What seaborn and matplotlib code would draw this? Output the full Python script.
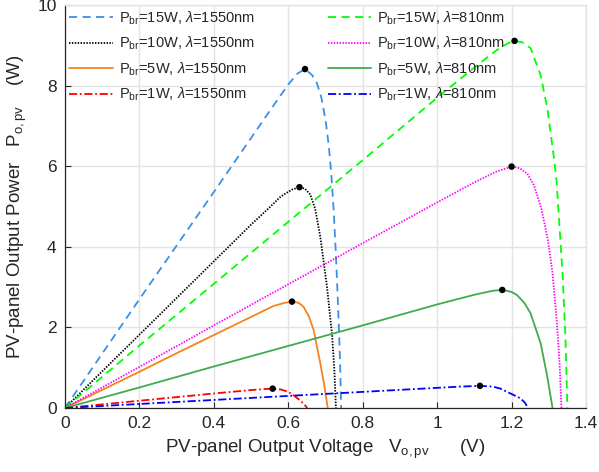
import matplotlib
matplotlib.use("Agg")
import matplotlib.pyplot as plt
import numpy as np
import pandas as pd
import seaborn as sns

# PV-panel output power vs voltage
V_15_1550 = [0, 0.1, 0.2, 0.3, 0.4, 0.5, 0.55, 0.6, 0.625, 0.645, 0.664, 0.677,
             0.689, 0.700, 0.709, 0.716, 0.722, 0.728, 0.734, 0.739, 0.742]
P_15_1550 = [0, 1.35, 2.70, 4.03, 5.36, 6.70, 7.37, 8.03, 8.30, 8.41, 8.26, 8.06,
             7.70, 7.15, 6.50, 5.75, 4.90, 3.80, 2.50, 1.20, 0]

V_10_1550 = [0, 0.1, 0.2, 0.3, 0.4, 0.5, 0.55, 0.58, 0.61, 0.63, 0.645, 0.659,
             0.672, 0.686, 0.704, 0.718, 0.724, 0.728]
P_10_1550 = [0, 0.91, 1.82, 2.73, 3.64, 4.55, 4.98, 5.25, 5.42, 5.48, 5.44, 5.30,
             4.95, 4.25, 3.01, 1.77, 0.90, 0]

V_5_1550 = [0, 0.1, 0.2, 0.3, 0.4, 0.5, 0.56, 0.59, 0.61, 0.628, 0.641, 0.655,
            0.668, 0.686, 0.697, 0.706]
P_5_1550 = [0, 0.45, 0.90, 1.36, 1.81, 2.26, 2.53, 2.61, 2.64, 2.61, 2.51, 2.28,
            1.94, 1.11, 0.55, 0]

V_1_1550 = [0, 0.1, 0.2, 0.3, 0.4, 0.5, 0.535, 0.558, 0.58, 0.6, 0.614, 0.63,
            0.642, 0.651]
P_1_1550 = [0, 0.09, 0.18, 0.27, 0.36, 0.445, 0.47, 0.48, 0.46, 0.40, 0.32, 0.20,
            0.10, 0]

V_15_810 = [0, 0.2, 0.4, 0.6, 0.8, 1.0, 1.1, 1.16, 1.19, 1.208, 1.23, 1.251,
            1.278, 1.296, 1.314, 1.321, 1.337, 1.345, 1.35]
P_15_810 = [0, 1.55, 3.08, 4.62, 6.15, 7.70, 8.45, 8.88, 9.05, 9.11, 9.07, 8.93,
            8.26, 7.44, 6.20, 5.62, 3.34, 1.70, 0]

V_10_810 = [0, 0.2, 0.4, 0.6, 0.8, 1.0, 1.1, 1.16, 1.2, 1.222, 1.242, 1.26,
            1.28, 1.297, 1.31, 1.322, 1.329, 1.334]
P_10_810 = [0, 1.02, 2.05, 3.07, 4.09, 5.10, 5.60, 5.87, 5.99, 5.95, 5.82, 5.53,
            4.95, 4.20, 3.35, 2.10, 1.10, 0]

V_5_810 = [0, 0.2, 0.4, 0.6, 0.8, 1.0, 1.1, 1.15, 1.175, 1.2, 1.215, 1.235,
           1.251, 1.278, 1.296, 1.31]
P_5_810 = [0, 0.51, 1.03, 1.54, 2.05, 2.57, 2.81, 2.91, 2.93, 2.88, 2.80, 2.60,
           2.35, 1.61, 0.78, 0]

V_1_810 = [0, 0.2, 0.4, 0.6, 0.8, 1.0, 1.06, 1.115, 1.15, 1.17, 1.188, 1.206,
           1.224, 1.236, 1.244]
P_1_810 = [0, 0.10, 0.20, 0.30, 0.40, 0.50, 0.53, 0.55, 0.53, 0.48, 0.40, 0.32,
           0.24, 0.13, 0]

LABELS = [
    r"P$_{\mathrm{br}}$=15W, $\lambda$=1550nm",
    r"P$_{\mathrm{br}}$=10W, $\lambda$=1550nm",
    r"P$_{\mathrm{br}}$=5W, $\lambda$=1550nm",
    r"P$_{\mathrm{br}}$=1W, $\lambda$=1550nm",
    r"P$_{\mathrm{br}}$=15W, $\lambda$=810nm",
    r"P$_{\mathrm{br}}$=10W, $\lambda$=810nm",
    r"P$_{\mathrm{br}}$=5W, $\lambda$=810nm",
    r"P$_{\mathrm{br}}$=1W, $\lambda$=810nm",
]
SERIES = [(V_15_1550, P_15_1550), (V_10_1550, P_10_1550), (V_5_1550, P_5_1550),
          (V_1_1550, P_1_1550), (V_15_810, P_15_810), (V_10_810, P_10_810),
          (V_5_810, P_5_810), (V_1_810, P_1_810)]

STYLES = [
    ("#3C8FE6", (0, (4.5, 3.0))),
    ("#000000", (0, (0.8, 0.8))),
    ("#F7821E", "-"),
    ("#FF0000", (0, (4.5, 1.5, 1.0, 1.5))),
    ("#00FF00", (0, (4.5, 3.0))),
    ("#FF00FF", (0, (0.8, 0.8))),
    ("#40AA50", "-"),
    ("#0000FF", (0, (4.5, 1.5, 1.0, 1.5))),
]

sns.set_theme(style="whitegrid")
plt.rcParams["font.family"] = ["Liberation Sans", "DejaVu Sans"]
plt.rcParams["mathtext.fontset"] = "custom"
plt.rcParams["mathtext.rm"] = "Liberation Sans"
plt.rcParams["mathtext.it"] = "Liberation Sans:italic"

frames = []
for label, (v, p) in zip(LABELS, SERIES):
    frames.append(pd.DataFrame({"V": v, "P": p, "curve": label}))
df = pd.concat(frames, ignore_index=True)

fig = plt.figure(figsize=(5.99, 4.72), dpi=100)
ax = fig.add_axes([65 / 599, 64 / 472, 521 / 599, 403 / 472])
ax.set_facecolor("white")

handles = []
for label, (color, ls) in zip(LABELS, STYLES):
    sub = df[df["curve"] == label]
    sns.lineplot(data=sub, x="V", y="P", sort=False, color=color, linestyle=ls,
                 linewidth=1.3, ax=ax, label=label, estimator=None)
    handles.append(ax.lines[-1])

# max power points
peaks = df.loc[df.groupby("curve", sort=False)["P"].idxmax()]
sns.scatterplot(data=peaks, x="V", y="P", color="black", s=22, zorder=5,
                edgecolor="none", ax=ax, legend=False)

ax.set_xlim(0, 1.4)
ax.set_ylim(0, 10)
ax.set_xticks(np.arange(0, 1.41, 0.2))
ax.set_xticklabels(["0", "0.2", "0.4", "0.6", "0.8", "1", "1.2", "1.4"])
ax.set_yticks(np.arange(0, 10.1, 2))
ax.grid(True, color="#E3E3E3", linewidth=1.0)
ax.tick_params(direction="in", length=4, width=0.8, colors="#262626",
               labelsize=12.5, pad=6, left=True, bottom=True)
for side in ["left", "bottom"]:
    ax.spines[side].set_color("#262626")
    ax.spines[side].set_linewidth(0.9)
for side in ["top", "right"]:
    ax.spines[side].set_color("#E3E3E3")
    ax.spines[side].set_linewidth(1.0)

ax.set_xlabel(r"PV-panel Output Voltage   V$_{\mathrm{o,pv}}$      (V)",
              fontsize=13.5, color="#262626", labelpad=5)
ax.set_ylabel(r"PV-panel Output Power   P$_{\mathrm{o,pv}}$    (W)",
              fontsize=13.5, color="#262626", labelpad=6)

ax.legend(handles=handles, labels=LABELS, ncol=2, loc="upper left",
          bbox_to_anchor=(0.0, 1.0), frameon=False, fontsize=10.5,
          handlelength=3.0, handletextpad=0.4, columnspacing=5.0,
          labelspacing=0.55, borderaxespad=0.1, borderpad=0.2)

fig.savefig("out.png", dpi=100)
